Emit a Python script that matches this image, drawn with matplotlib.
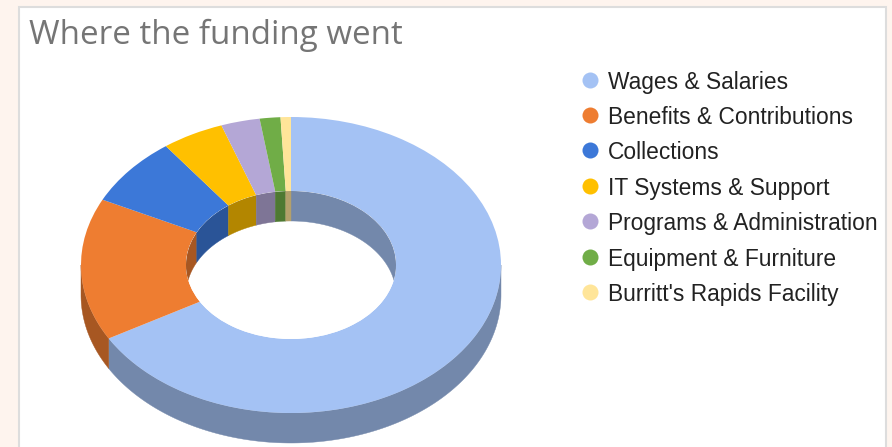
import numpy as np
import matplotlib
matplotlib.use('agg')
from matplotlib import pyplot as plt
from matplotlib.patches import Rectangle, Polygon, Ellipse
from matplotlib.transforms import Affine2D
from matplotlib.colors import to_rgb

categories = ['Wages & Salaries', 'Benefits & Contributions', 'Collections', 'IT Systems & Support',
              'Programs & Administration', 'Equipment & Furniture', "Burritt's Rapids Facility"]
values = [67.0, 15.6, 7.6, 4.8, 3.0, 1.6, 0.8]
colors = ['#A4C2F4', '#EE7D31', '#3C78D8', '#FFC000', '#B4A7D6', '#70AD47', '#FFE599']
title = 'Where the funding went'

W, H = 892, 447
CX, CY = 291, H - 265
RX, RY = 210, 148
HOLE_RX, HOLE_RY = 105, 74
DEPTH = 30
SHADE = 0.7

fig = plt.figure(figsize=(W / 100, H / 100), dpi=100, facecolor='#FEF4EE')
ax = fig.add_axes([0, 0, 1, 1])

# card behind the chart
ax.add_patch(Rectangle((18.5, -5), 867.5, H - 1.5, fc='white', ec='#DDDDDD', lw=1.5, zorder=0))


def arc(a0, a1, rx, ry, dy=0):
    # angles in degrees, clockwise from the top
    t = np.radians(np.linspace(a0, a1, max(int(abs(a1 - a0) * 2), 2)))
    return np.column_stack([CX + rx * np.sin(t), CY + ry * np.cos(t) - dy])


edges = np.concatenate([[0], np.cumsum(values)]) / sum(values) * 360
dark = [tuple(c * SHADE for c in to_rgb(col)) for col in colors]

# outer wall, only the front half shows
for i in range(len(values)):
    a0, a1 = max(edges[i], 90), min(edges[i + 1], 270)
    if a1 > a0:
        top = arc(a0, a1, RX, RY)
        low = arc(a0, a1, RX, RY, DEPTH)[::-1]
        ax.add_patch(Polygon(np.vstack([top, low]), fc=dark[i], ec=dark[i], lw=0.3, zorder=1))

# top face
wedges, _ = ax.pie(values, colors=colors, radius=RX, center=(CX, CY), startangle=90, counterclock=False,
                   wedgeprops={'width': RX - HOLE_RX, 'linewidth': 0})
squash = Affine2D().translate(-CX, -CY).scale(1, RY / RX).translate(CX, CY) + ax.transData
for w in wedges:
    w.set_transform(squash)
    w.set_zorder(2)

# inner wall, only the back half shows, clipped to the hole
hole = Ellipse((CX, CY), 2 * HOLE_RX, 2 * HOLE_RY, fc='white', ec='none', zorder=3)
ax.add_patch(hole)
for i in range(len(values)):
    for lo, hi in [(0, 90), (270, 360)]:
        a0, a1 = max(edges[i], lo), min(edges[i + 1], hi)
        if a1 > a0:
            top = arc(a0, a1, HOLE_RX, HOLE_RY)
            low = arc(a0, a1, HOLE_RX, HOLE_RY, DEPTH)[::-1]
            p = Polygon(np.vstack([top, low]), fc=dark[i], ec=dark[i], lw=0.3, zorder=4)
            ax.add_patch(p)
            p.set_clip_path(hole)

ax.text(29, H - 44, title, fontsize=23.85, color='#757575', family='Open Sans', va='baseline', ha='left')

legend_y = [80, 115, 150, 186, 221, 257, 292]
for name, col, y in zip(categories, colors, legend_y):
    ax.scatter([590], [H - y], s=133, color=col, linewidths=0, zorder=5)
    ax.text(608, H - y, name, fontsize=16.4, color='#222222', family='Liberation Sans',
            va='center_baseline', ha='left')

ax.set_aspect('auto')
ax.set_xlim(0, W)
ax.set_ylim(0, H)
ax.axis('off')

fig.savefig('out.png', dpi=100, facecolor=fig.get_facecolor())
